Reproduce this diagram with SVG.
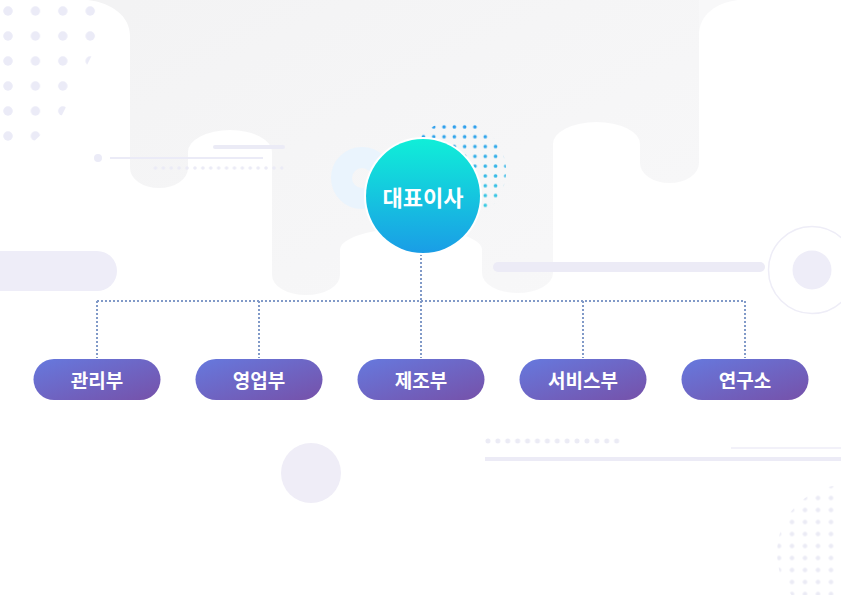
<svg xmlns="http://www.w3.org/2000/svg" width="841" height="595" viewBox="0 0 841 595">
  <defs>
    <linearGradient id="bgGrey" x1="0" y1="0" x2="1" y2="1">
      <stop offset="0" stop-color="#f3f3f4"/>
      <stop offset="1" stop-color="#f8f8f9"/>
    </linearGradient>
    <linearGradient id="ceoGrad" x1="0" y1="0" x2="0" y2="1">
      <stop offset="0" stop-color="#10eed8"/>
      <stop offset="1" stop-color="#1a9de6"/>
    </linearGradient>
    <linearGradient id="deptGrad" x1="0" y1="0" x2="1" y2="1">
      <stop offset="0" stop-color="#6679de"/>
      <stop offset="1" stop-color="#7651a9"/>
    </linearGradient>
    <linearGradient id="blueDots" x1="0" y1="0" x2="0" y2="1">
      <stop offset="0" stop-color="#2a98ee"/>
      <stop offset="1" stop-color="#3ed8df"/>
    </linearGradient>
    <clipPath id="clipTL">
      <polygon points="0,0 100,0 100,40 92,55 62,115 30,145 0,145"/>
    </clipPath>
    <clipPath id="clipBlue">
      <circle cx="456" cy="171" r="50"/>
    </clipPath>
    <clipPath id="clipBR">
      <circle cx="845" cy="553" r="68"/>
    </clipPath>
    <pattern id="patTL" x="8" y="11" width="27.4" height="25" patternUnits="userSpaceOnUse">
      <circle cx="0" cy="0" r="4.7" fill="#ebebf7"/>
      <circle cx="27.4" cy="0" r="4.7" fill="#ebebf7"/>
      <circle cx="0" cy="25" r="4.7" fill="#ebebf7"/>
      <circle cx="27.4" cy="25" r="4.7" fill="#ebebf7"/>
    </pattern>
    <pattern id="patBlue" x="408" y="122" width="10.3" height="9.8" patternUnits="userSpaceOnUse">
      <circle cx="5.15" cy="4.9" r="1.8" fill="#ffffff"/>
    </pattern>
    <mask id="maskBlue">
      <rect x="400" y="115" width="110" height="115" fill="url(#patBlue)"/>
    </mask>
    <pattern id="patBR" x="772.5" y="479.5" width="13" height="12" patternUnits="userSpaceOnUse">
      <circle cx="6.5" cy="6.5" r="2.3" fill="#ebebf5"/>
    </pattern>
    <pattern id="patRow" x="151.5" y="164" width="7.9" height="8" patternUnits="userSpaceOnUse">
      <circle cx="3.95" cy="4" r="1.8" fill="#ebebf6"/>
    </pattern>
    <pattern id="patRow2" x="483" y="436" width="9.9" height="10" patternUnits="userSpaceOnUse">
      <circle cx="4.95" cy="5" r="2.5" fill="#ebebf5"/>
    </pattern>
  </defs>
  <style>
    .conn { fill: none; stroke: #819ac8; stroke-width: 2; stroke-dasharray: 2 2; }
    .dept rect { fill: url(#deptGrad); }
    .label { font-family: "Noto Sans CJK KR", "Noto Sans", sans-serif; font-weight: 700; fill: #ffffff; text-anchor: middle; dominant-baseline: central; }
    .deco { fill: #eeedf8; }
  </style>

  <rect x="0" y="0" width="841" height="595" fill="#ffffff"/>

  <!-- background grey cylinders -->
  <g id="background">
    <path fill="url(#bgGrey)" d="M130 0 L699 0 L699 163 A29.5 20 0 0 1 640 163 L640 144 A43.5 22 0 0 0 553 144 L553 273 A35.5 20 0 0 1 482 273 L482 250 A71 22 0 0 0 340 250 L340 275 A34 20 0 0 1 272 275 L272 152 A42 22 0 0 0 188 152 L188 168 A29 20 0 0 1 130 168 Z"/>
    <path fill="#f3f3f4" d="M88 0 L130 0 L130 36 C130 16 112 3 88 0 Z"/>
    <path fill="#f8f8f9" d="M699 0 L738 0 C716 3 699 14 699 36 Z"/>

    <!-- top-left dot grid -->
    <rect x="0" y="0" width="110" height="150" fill="url(#patTL)" clip-path="url(#clipTL)"/>

    <!-- left lines -->
    <circle cx="98" cy="158" r="4" fill="#ebebf7"/>
    <line x1="110" y1="158" x2="263" y2="158" stroke="#ebebf7" stroke-width="2"/>
    <line x1="215" y1="147" x2="283" y2="147" stroke="#ebebf6" stroke-width="4" stroke-linecap="round"/>
    <rect x="151.5" y="164" width="132" height="8" fill="url(#patRow)"/>

    <!-- left pill -->
    <rect x="-30" y="251" width="147" height="40" rx="20" class="deco"/>

    <!-- light blue ring -->
    <circle cx="362" cy="178" r="20.5" fill="none" stroke="#eaf4fd" stroke-width="21"/>

    <!-- blue dot cluster -->
    <g clip-path="url(#clipBlue)">
      <rect x="400" y="115" width="110" height="115" fill="url(#blueDots)" mask="url(#maskBlue)"/>
    </g>

    <!-- right bar and ring -->
    <rect x="493" y="262" width="272" height="10" rx="5" fill="#ecebf6"/>
    <circle cx="812" cy="270" r="43.5" fill="none" stroke="#eeedf7" stroke-width="1.5"/>
    <circle cx="812" cy="270" r="19.5" class="deco"/>

    <!-- bottom decorations -->
    <circle cx="311" cy="473" r="30" fill="#efedf7"/>
    <rect x="483" y="436" width="139" height="10" fill="url(#patRow2)"/>
    <line x1="731" y1="448" x2="841" y2="448" stroke="#eeedf7" stroke-width="1.5"/>
    <line x1="485" y1="459" x2="841" y2="459" stroke="#ecebf6" stroke-width="4"/>
    <rect x="760" y="475" width="81" height="120" fill="url(#patBR)" clip-path="url(#clipBR)"/>
  </g>

  <!-- connectors -->
  <g id="connectors">
    <path class="conn" d="M421 254 L421 301"/>
    <path class="conn" d="M97 301 L745 301"/>
    <path class="conn" d="M97 301 L97 358"/>
    <path class="conn" d="M259 301 L259 358"/>
    <path class="conn" d="M421 301 L421 358"/>
    <path class="conn" d="M583 301 L583 358"/>
    <path class="conn" d="M745 301 L745 358"/>
  </g>

  <!-- CEO node -->
  <g id="ceo">
    <circle cx="423" cy="196" r="59" fill="#ffffff"/>
    <circle cx="423" cy="196" r="57" fill="url(#ceoGrad)"/>
    <text x="423" y="196" class="label" font-size="22">대표이사</text>
  </g>

  <!-- departments -->
  <g id="dept-admin" class="dept">
    <rect x="33.5" y="359" width="127" height="41" rx="20.5"/>
    <text x="97" y="379.5" class="label" font-size="19">관리부</text>
  </g>
  <g id="dept-sales" class="dept">
    <rect x="195.5" y="359" width="127" height="41" rx="20.5"/>
    <text x="259" y="379.5" class="label" font-size="19">영업부</text>
  </g>
  <g id="dept-manufacturing" class="dept">
    <rect x="357.5" y="359" width="127" height="41" rx="20.5"/>
    <text x="421" y="379.5" class="label" font-size="19">제조부</text>
  </g>
  <g id="dept-service" class="dept">
    <rect x="519.5" y="359" width="127" height="41" rx="20.5"/>
    <text x="583" y="379.5" class="label" font-size="19">서비스부</text>
  </g>
  <g id="dept-research" class="dept">
    <rect x="681.5" y="359" width="127" height="41" rx="20.5"/>
    <text x="745" y="379.5" class="label" font-size="19">연구소</text>
  </g>
</svg>
